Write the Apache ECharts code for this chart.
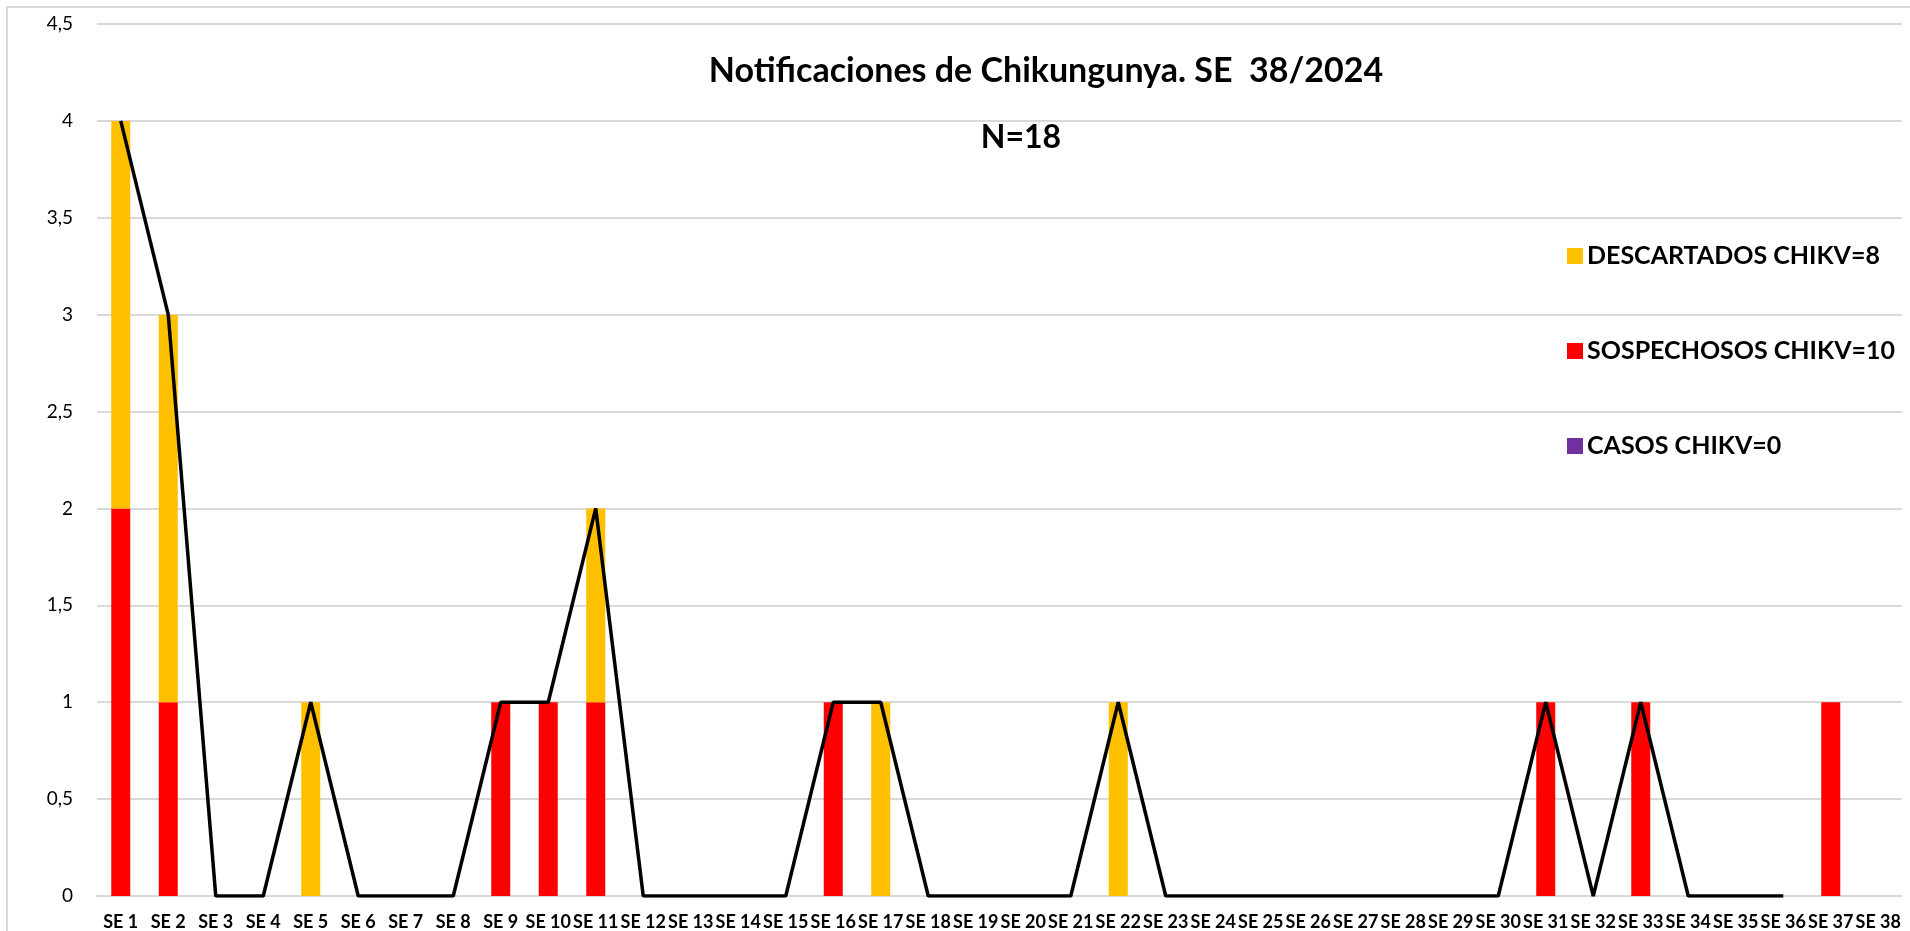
<!DOCTYPE html>
<html>
<head>
<meta charset="utf-8">
<title>Notificaciones de Chikungunya</title>
<script src="https://cdn.jsdelivr.net/npm/echarts@6/dist/echarts.min.js"></script>
<style>
  html, body { margin: 0; padding: 0; background: #fff; }
  #chart { width: 1910px; height: 931px; }
</style>
</head>
<body>
<div id="chart"></div>
<script>
// semanas epidemiologicas
const semanas = [];
for (let i = 1; i <= 38; i++) semanas.push('SE ' + i);

const sospechosos = [2,1,0,0,0,0,0,0,1,1,1,0,0,0,0,1,0,0,0,0,0,0,0,0,0,0,0,0,0,0,1,0,1,0,0,0,1,0];
const descartados = [2,2,0,0,1,0,0,0,0,0,1,0,0,0,0,0,1,0,0,0,0,1,0,0,0,0,0,0,0,0,0,0,0,0,0,0,0,0];
const casos       = [0,0,0,0,0,0,0,0,0,0,0,0,0,0,0,0,0,0,0,0,0,0,0,0,0,0,0,0,0,0,0,0,0,0,0,0,0,0];
// total notificado (la linea termina en SE 36)
const total       = [4,3,0,0,1,0,0,0,1,1,2,0,0,0,0,1,1,0,0,0,0,1,0,0,0,0,0,0,0,0,1,0,1,0,0,0,null,null];

const yTicks = { min: 0, max: 4.5, interval: 0.5 };

const FONT = 'Lato';
const chart = echarts.init(document.getElementById('chart'));

const option = {
  animation: false,
  textStyle: { fontFamily: FONT },
  grid: { left: 97, right: 8, top: 24, bottom: 35, containLabel: false },
  graphic: [
    {
      type: 'rect', silent: true, z: -10,
      shape: { x: 7, y: 7, width: 2000, height: 2000 },
      style: { fill: 'none', stroke: '#d9d9d9', lineWidth: 2 }
    },
    {
      type: 'text', x: 1046, y: 71, z: 10,
      style: { text: 'Notificaciones de Chikungunya. SE  38/2024', fontFamily: FONT, fontWeight: 'bold',
               fontSize: 34, fill: '#000', textAlign: 'center', textVerticalAlign: 'middle' }
    },
    {
      type: 'text', x: 1021, y: 138, z: 10,
      style: { text: 'N=18', fontFamily: FONT, fontWeight: 'bold',
               fontSize: 32, fill: '#000', textAlign: 'center', textVerticalAlign: 'middle' }
    }
  ],
  legend: {
    orient: 'vertical',
    left: 1562,
    top: 238,
    itemWidth: 16,
    itemHeight: 16,
    itemGap: 69,
    icon: 'rect',
    data: ['DESCARTADOS CHIKV=8', 'SOSPECHOSOS CHIKV=10', 'CASOS CHIKV=0'],
    textStyle: { fontFamily: FONT, fontWeight: 'bold', fontSize: 25, color: '#000', lineHeight: 26, padding: [0, 0, 0, -1] }
  },
  xAxis: {
    type: 'category',
    data: semanas,
    axisTick: { show: false },
    axisLine: { lineStyle: { color: '#d9d9d9', width: 2 } },
    axisLabel: { interval: 0, fontFamily: FONT, fontWeight: 'bold', fontSize: 18, color: '#000', margin: 17 }
  },
  yAxis: {
    type: 'value',
    min: yTicks.min, max: yTicks.max, interval: yTicks.interval,
    axisLine: { show: false },
    axisTick: { show: false },
    splitLine: { lineStyle: { color: '#d9d9d9', width: 2 } },
    axisLabel: {
      fontFamily: FONT, fontSize: 19, color: '#000', margin: 24,
      formatter: v => String(v).replace('.', ',')
    }
  },
  series: [
    { name: 'SOSPECHOSOS CHIKV=10', type: 'bar', stack: 'n', data: sospechosos, barWidth: 19, itemStyle: { color: '#ff0000' } },
    { name: 'DESCARTADOS CHIKV=8', type: 'bar', stack: 'n', data: descartados, barWidth: 19, itemStyle: { color: '#ffc000' } },
    { name: 'CASOS CHIKV=0', type: 'bar', stack: 'n', data: casos, barWidth: 19, itemStyle: { color: '#7030a0' } },
    { name: 'Total', type: 'line', data: total, symbol: 'none', z: 5,
      lineStyle: { color: '#000', width: 3.5 }, connectNulls: false }
  ]
};

chart.setOption(option);
</script>
</body>
</html>
